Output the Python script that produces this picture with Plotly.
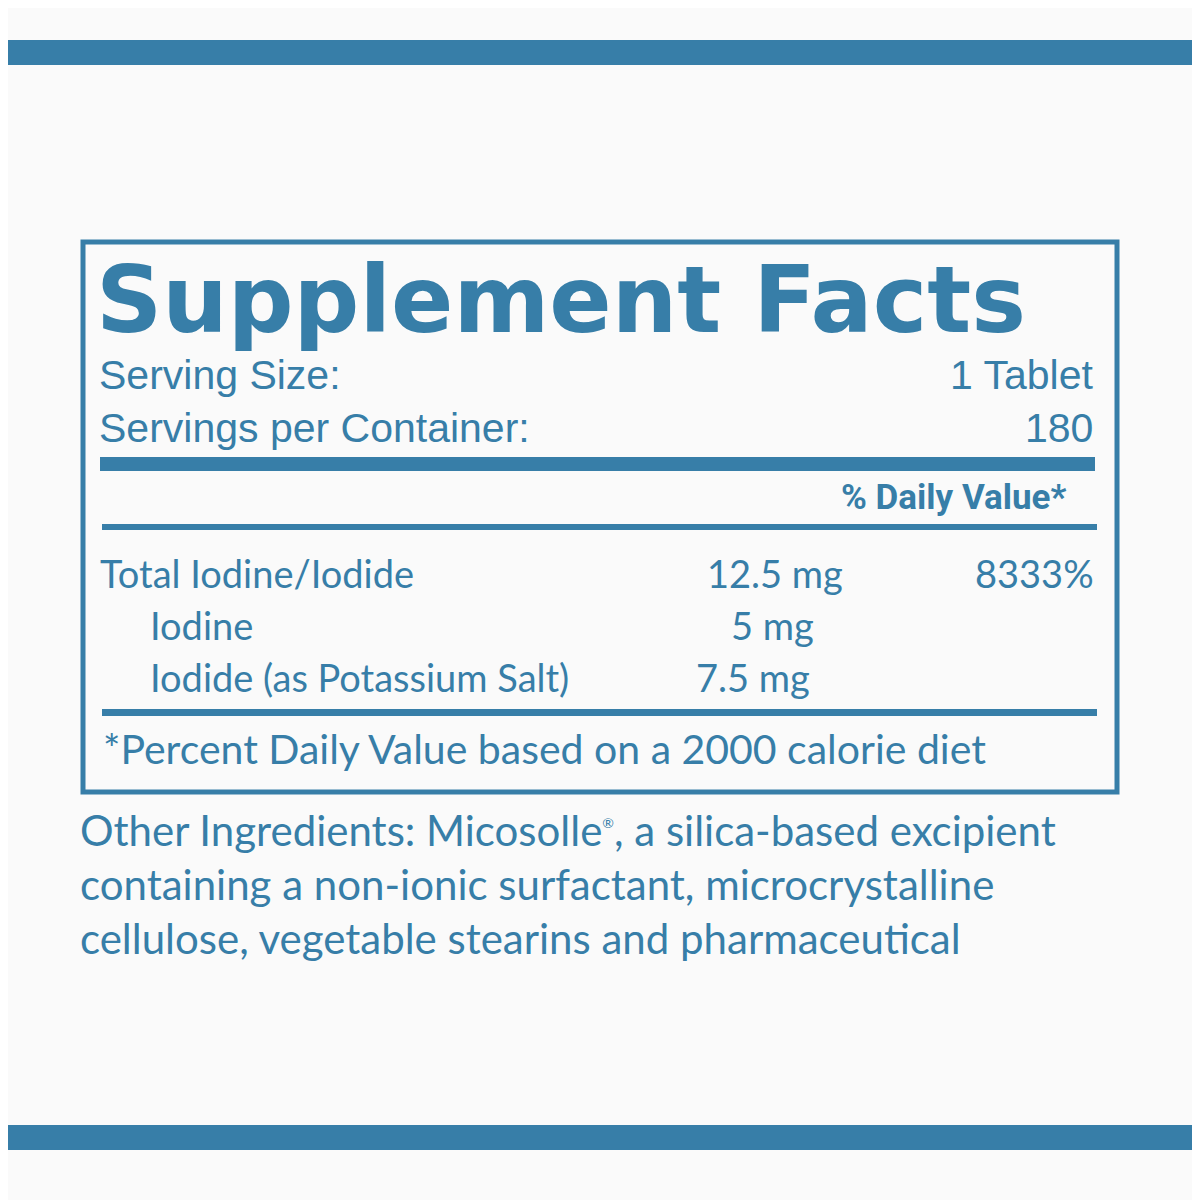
import plotly.graph_objects as go

BLUE = "#377ea8"
BG = "#fafafa"

title = "Supplement Facts"
serving_labels = ["Serving Size:", "Servings per Container:"]
serving_values = ["1 Tablet", "180"]
nutrients = ["Total Iodine/Iodide", "Iodine", "Iodide (as Potassium Salt)"]
amounts = ["12.5 mg", "5 mg", "7.5 mg"]
daily_values = ["8333%", "", ""]
footnote = "*Percent Daily Value based on a 2000 calorie diet"
other_lines = [
    "Other Ingredients: Micosolle<sup><span style='font-size:14px'>®</span></sup>, a silica-based excipient",
    "containing a non-ionic surfactant, microcrystalline",
    "cellulose, vegetable stearins and pharmaceutical",
]

fig = go.Figure()
ann = []
def txt(x, y, s, size, anchor="left", bold=False, family="Lato"):
    ann.append(dict(x=x, y=y, xref="x", yref="y", text=f"<b>{s}</b>" if bold else s,
                    showarrow=False, xanchor=anchor, yanchor="middle",
                    font=dict(size=size, color=BLUE, family=family)))

shapes = [
    dict(type="rect", x0=0, x1=1220, y0=40, y1=65, fillcolor=BLUE, line_width=0),
    dict(type="rect", x0=0, x1=1220, y0=1125, y1=1150, fillcolor=BLUE, line_width=0),
    dict(type="rect", x0=83, x1=1117, y0=242, y1=792, line=dict(color=BLUE, width=5)),
    dict(type="rect", x0=100, x1=1095, y0=457, y1=471, fillcolor=BLUE, line_width=0),
    dict(type="rect", x0=102, x1=1097, y0=524, y1=530, fillcolor=BLUE, line_width=0),
    dict(type="rect", x0=102, x1=1097, y0=709, y1=716, fillcolor=BLUE, line_width=0),
]

txt(94, 300, title, 92, bold=True, family="DejaVu Sans")
for i, (l, v) in enumerate(zip(serving_labels, serving_values)):
    y = 375 + i * 53
    txt(97, y, l, 41, family="Liberation Sans")
    txt(1095, y, v, 41, anchor="right", family="Liberation Sans")
txt(1068, 497, "% Daily Value*", 35, anchor="right", bold=True, family="Roboto")

amount_x = [775, 772, 753]
indent = [98, 148, 148]
for i in range(len(nutrients)):
    y = 573 + i * 52
    txt(indent[i], y, nutrients[i], 38)
    txt(amount_x[i], y, amounts[i], 38, anchor="center")
    if daily_values[i]:
        txt(1096, y, daily_values[i], 38, anchor="right")
txt(101, 748, footnote, 41)
for i, line in enumerate(other_lines):
    txt(78, 830 + i * 54, line, 42)

fig.update_layout(
    width=1200, height=1200, margin=dict(l=0, r=0, t=0, b=0),
    paper_bgcolor=BG, plot_bgcolor=BG, shapes=shapes, annotations=ann,
    xaxis=dict(range=[8, 1208], visible=False, fixedrange=True),
    yaxis=dict(range=[1208, 8], visible=False, fixedrange=True),
    showlegend=False,
)
fig.write_html("out.html")
